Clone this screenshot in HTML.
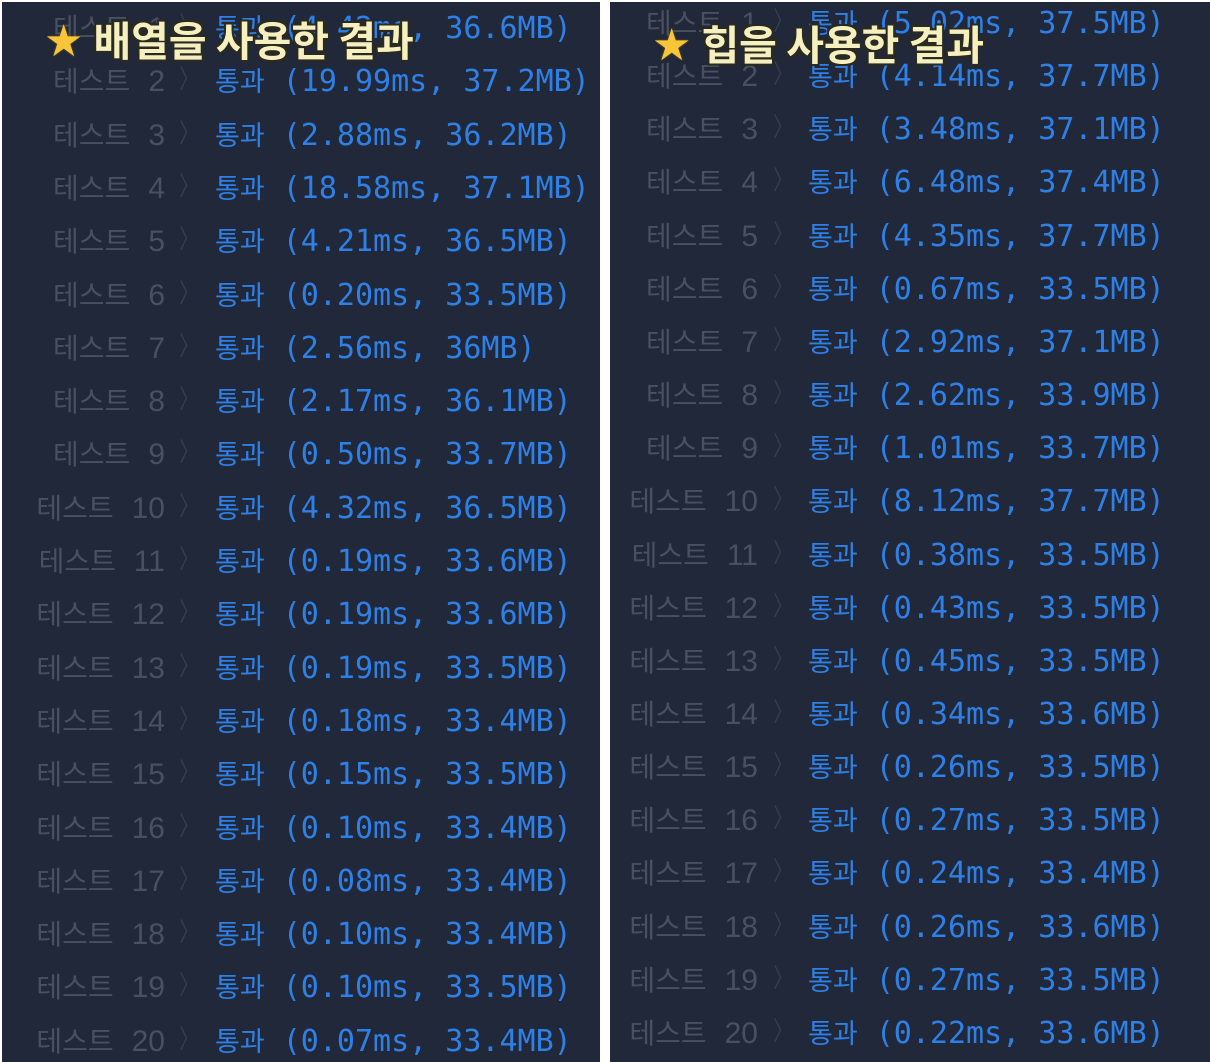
<!DOCTYPE html>
<html><head><meta charset="utf-8">
<style>
html,body{margin:0;padding:0;background:#fff;}
body{width:1210px;height:1062px;position:relative;overflow:hidden;}
.panel{position:absolute;top:2px;height:1060px;background:#202839;overflow:hidden;}
.row{position:absolute;left:0;height:40px;line-height:40px;white-space:nowrap;}
.lbl{position:absolute;text-align:right;color:#48515f;}
.lbl .t{font-family:"Noto Sans CJK KR",sans-serif;font-size:28px;}
.lbl .n{font-family:"Liberation Sans",sans-serif;font-size:30px;margin-left:18px;}
.chev{position:absolute;font-family:"DejaVu Sans","Liberation Sans",sans-serif;font-size:26px;color:#363e4d;transform:scaleX(0.75);}
.res{position:absolute;font-family:"DejaVu Sans Mono","Noto Sans CJK KR",monospace;font-size:30px;color:#2f80e6;}
.res .k{font-family:"Noto Sans CJK KR",sans-serif;font-size:27px;}
.title{position:absolute;font-family:"Noto Sans CJK KR",sans-serif;font-weight:bold;font-size:41px;line-height:48px;color:#f6efbf;
 text-shadow:-2px -2px 0 #2a2a20,2px -2px 0 #2a2a20,-2px 2px 0 #2a2a20,2px 2px 0 #2a2a20,0 2px 0 #2a2a20,0 -2px 0 #2a2a20,2px 0 0 #2a2a20,-2px 0 0 #2a2a20;white-space:nowrap;}
.star{color:#f7c43a;font-family:"DejaVu Sans",sans-serif;font-size:44px;text-shadow:0 0 2px #7a5a10;margin-right:10px;}
</style></head>
<body>
<div class="panel" id="left" style="left:2px;width:598px;"></div>
<div class="panel" id="right" style="left:610px;width:600px;"></div>
<script>
const arrayMs=["4.42","19.99","2.88","18.58","4.21","0.20","2.56","2.17","0.50","4.32","0.19","0.19","0.19","0.18","0.15","0.10","0.08","0.10","0.10","0.07"];
const arrayMB=["36.6","37.2","36.2","37.1","36.5","33.5","36","36.1","33.7","36.5","33.6","33.6","33.5","33.4","33.5","33.4","33.4","33.4","33.5","33.4"];
const heapMs=["5.02","4.14","3.48","6.48","4.35","0.67","2.92","2.62","1.01","8.12","0.38","0.43","0.45","0.34","0.26","0.27","0.24","0.26","0.27","0.22"];
const heapMB=["37.5","37.7","37.1","37.4","37.7","33.5","37.1","33.9","33.7","37.7","33.5","33.5","33.5","33.6","33.5","33.5","33.4","33.6","33.5","33.6"];
function build(panel,ms,mb,cfg){
  for(let i=0;i<ms.length;i++){
    const row=document.createElement('div');
    row.className='row';
    
    
    row.style.top=(cfg.y0+i*cfg.dy-20)+'px';
    row.style.width='100%';
    const l=document.createElement('span');
    l.className='lbl';
    
    
    l.style.right=(cfg.w-cfg.lblRight)+'px';
    l.innerHTML='<span class="t">테스트</span><span class="n">'+(i+1)+'</span>';
    const c=document.createElement('span');
    c.className='chev';
    
    
    c.style.left=cfg.chev+'px';
    c.textContent='〉';
    const r=document.createElement('span');
    r.className='res';
    
    
    r.style.left=cfg.res+'px';
    r.innerHTML='<span class="k">통과</span> ('+ms[i]+'ms, '+mb[i]+'MB)';
    row.appendChild(l);row.appendChild(c);row.appendChild(r);
    panel.appendChild(row);
  }
}
build(document.getElementById('left'),arrayMs,arrayMB,{y0:25,dy:53.3,w:598,lblRight:163,chev:174,res:213});
build(document.getElementById('right'),heapMs,heapMB,{y0:20,dy:53.15,w:600,lblRight:148,chev:160,res:198});
</script>
<div class="title" style="left:44px;top:14px;"><span class="star">★</span>배열을 사용한 결과</div>
<div class="title" style="left:652px;top:18px;"><span class="star">★</span>힙을 사용한 결과</div>
</body></html>
